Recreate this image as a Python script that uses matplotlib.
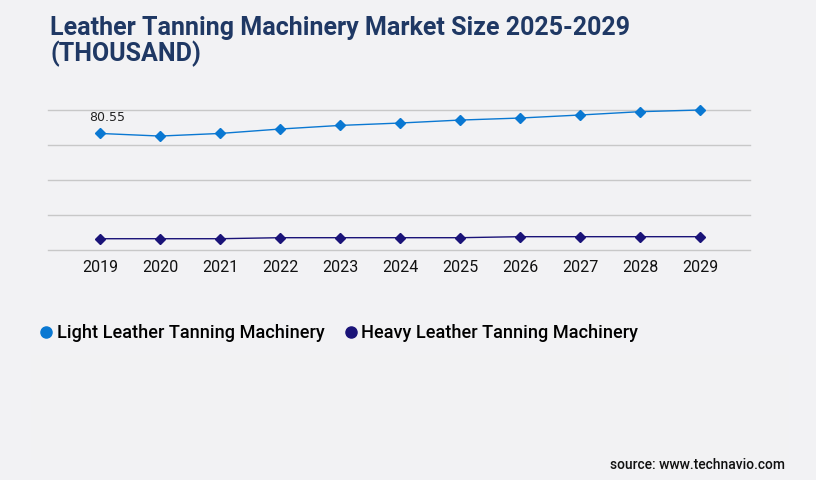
import matplotlib
matplotlib.use("Agg")
import matplotlib.pyplot as plt
from matplotlib.patches import Rectangle
from matplotlib.lines import Line2D

years = ["2019", "2020", "2021", "2022", "2023", "2024", "2025", "2026", "2027", "2028", "2029"]
light = [80.55, 78.75, 80.55, 83.6, 86.1, 87.75, 89.8, 91.2, 93.3, 95.6, 96.76]
heavy = [7.8, 7.8, 7.8, 8.5, 8.5, 8.5, 8.5, 9.2, 9.2, 9.2, 9.2]
series_names = ["Light Leather Tanning Machinery", "Heavy Leather Tanning Machinery"]
title = "Leather Tanning Machinery Market Size 2025-2029\n(THOUSAND)"
source = "source: www.technavio.com"

bg = "#f2f2f4"
c_light = "#0a78d2"
c_heavy = "#1a1378"
plt.rcParams['font.family'] = ['Roboto', 'DejaVu Sans']

fig = plt.figure(figsize=(8.16, 4.80), dpi=100, facecolor=bg)
# subtle lower panel
fig.patches.append(Rectangle((31/816, 20/480), (789-31)/816, (480-20-355)/480,
                             transform=fig.transFigure, facecolor="#f2f2f3",
                             edgecolor="none", zorder=0))

ax = fig.add_axes([48/816, 1-250/480, (750-48)/816, (250-110)/480])
ax.set_facecolor(bg)
x = list(range(len(years)))
ymax = 96.76
ax.set_ylim(0, ymax)
ax.set_xlim(-52/60, 10 + 50/60)
for i in range(5):
    ax.axhline(ymax * i / 4, color="#c8c8c8", lw=1, zorder=1, clip_on=False)
ax.plot(x, light, color=c_light, lw=1.0, marker="D", ms=5.5, zorder=3, clip_on=False)
ax.plot(x, heavy, color=c_heavy, lw=1.0, marker="D", ms=5.5, zorder=3, clip_on=False)
ax.annotate(f"{light[0]:.2f}", (x[0], light[0]), xytext=(-8, 7), textcoords="offset points",
            ha="left", va="bottom", fontsize=9, color="#222222", family=['DejaVu Sans'])
ax.set_xticks(x)
ax.set_xticklabels(years, fontsize=11.5, color="#111111")
ax.tick_params(axis="x", length=0, pad=7)
ax.set_yticks([])
for s in ax.spines.values():
    s.set_visible(False)

fig.text(50/816, 1-16/480, title, ha="left", va="top", fontsize=18, fontweight="bold",
         color="#1f3864", linespacing=1.05)

handles = [Line2D([], [], color=c, marker="o", ls="none", ms=8) for c in (c_light, c_heavy)]
fig.legend(handles, series_names, loc="center left", bbox_to_anchor=(30/816, 1-333/480),
           frameon=False, ncol=2, handletextpad=0.1, columnspacing=0.9,
           handlelength=1.0, borderaxespad=0, prop={'weight': 'medium', 'size': 13.1})

fig.text(785/816, 1-465/480, source, ha="right", va="center", fontsize=10,
         fontweight="medium", color="#111111")

fig.savefig("out.png", dpi=100, facecolor=bg)
